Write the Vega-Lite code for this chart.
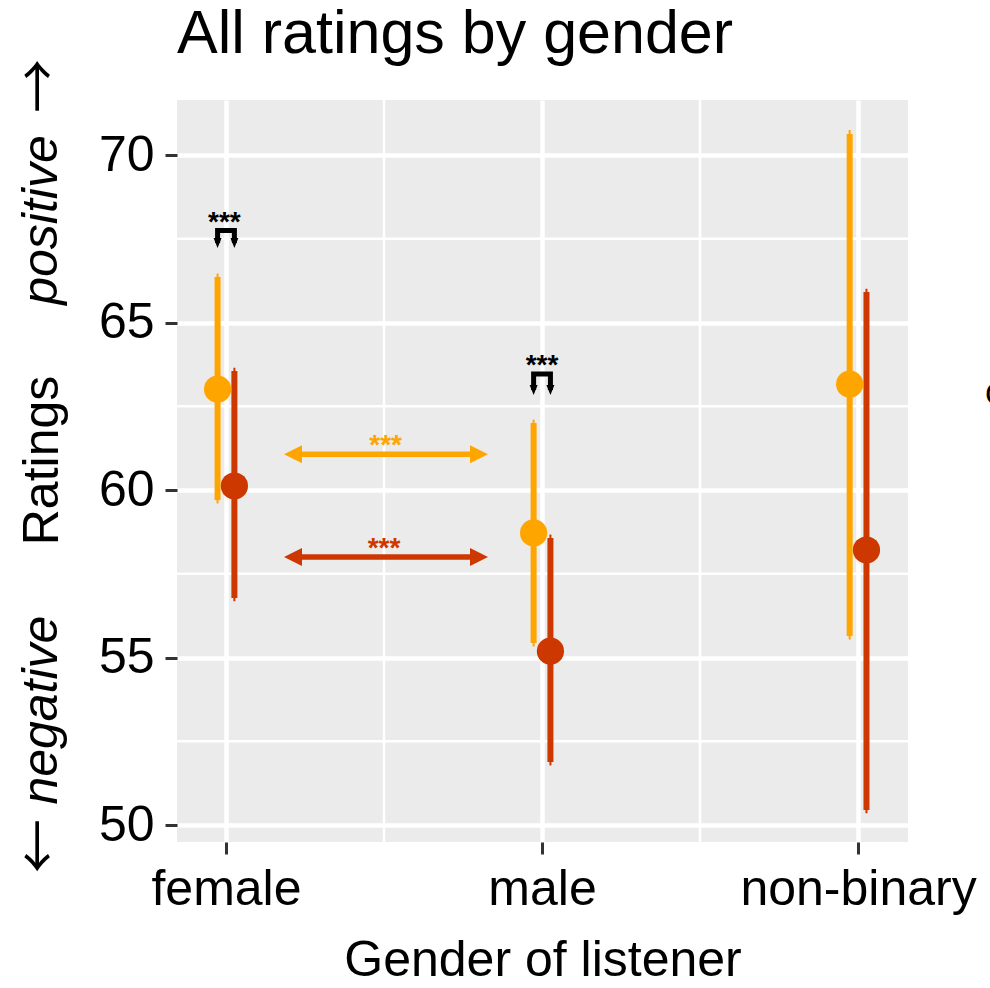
{
  "$schema": "https://vega.github.io/schema/vega-lite/v6.json",
  "width": 731,
  "height": 742,
  "autosize": {"type": "none"},
  "padding": {"left": 177, "top": 100, "right": 82, "bottom": 146},
  "background": "white",
  "title": {"text": "All ratings by gender", "anchor": "start", "frame": "group", "offset": -55, "baseline": "alphabetic", "fontSize": 61, "font": "Liberation Sans", "fontWeight": "normal", "color": "black"},
  "config": {
    "view": {"fill": "#EBEBEB", "stroke": null},
    "font": "Liberation Sans",
    "axis": {"labelFont": "Liberation Sans", "titleFont": "Liberation Sans"},
    "text": {"font": "Liberation Sans"}
  },
  "datasets": {
    "bars": [
      {"listener": "female", "speaker": "female", "x": 0.9734, "mean": 63.01, "lo": 59.70, "hi": 66.36, "lo_tip": 59.60, "hi_tip": 66.46},
      {"listener": "female", "speaker": "male", "x": 1.0266, "mean": 60.12, "lo": 56.78, "hi": 63.55, "lo_tip": 56.68, "hi_tip": 63.65},
      {"listener": "male", "speaker": "female", "x": 1.9734, "mean": 58.72, "lo": 55.43, "hi": 62.00, "lo_tip": 55.33, "hi_tip": 62.10},
      {"listener": "male", "speaker": "male", "x": 2.0266, "mean": 55.19, "lo": 51.88, "hi": 58.57, "lo_tip": 51.78, "hi_tip": 58.67},
      {"listener": "non-binary", "speaker": "female", "x": 2.9734, "mean": 63.16, "lo": 55.64, "hi": 70.63, "lo_tip": 55.54, "hi_tip": 70.75},
      {"listener": "non-binary", "speaker": "male", "x": 3.0266, "mean": 58.21, "lo": 50.45, "hi": 65.91, "lo_tip": 50.35, "hi_tip": 66.01}
    ],
    "vgrid": [{"x": 1.5}, {"x": 2.5}],
    "hgrid": [{"y": 52.5}, {"y": 57.5}, {"y": 62.5}, {"y": 67.5}],
    "arrows": [
      {"speaker": "female", "y": 61.066, "x1": 1.212, "x2": 1.8006, "xm": 1.505, "label": "***"},
      {"speaker": "male", "y": 58.0, "x1": 1.212, "x2": 1.8006, "xm": 1.5, "label": "***"}
    ],
    "brackets": [
      {"id": "female", "k": 1, "x": 0.9734, "y": 67.373},
      {"id": "female", "k": 2, "x": 0.9734, "y": 67.746},
      {"id": "female", "k": 3, "x": 1.0266, "y": 67.746},
      {"id": "female", "k": 4, "x": 1.0266, "y": 67.373},
      {"id": "male", "k": 1, "x": 1.9734, "y": 62.985},
      {"id": "male", "k": 2, "x": 1.9734, "y": 63.463},
      {"id": "male", "k": 3, "x": 2.0266, "y": 63.463},
      {"id": "male", "k": 4, "x": 2.0266, "y": 62.985}
    ],
    "bracketEnds": [
      {"x": 0.9734, "y": 67.373}, {"x": 1.0266, "y": 67.373},
      {"x": 1.9734, "y": 62.985}, {"x": 2.0266, "y": 62.985}
    ],
    "stars": [
      {"x": 0.995, "y": 67.746, "label": "***"},
      {"x": 2.0, "y": 63.463, "label": "***"}
    ],
    "sidewords": [
      {"x": 0.4177, "y": 68.06, "label": "positive"},
      {"x": 0.4177, "y": 53.43, "label": "negative"}
    ],
    "sidearrows": [
      {"x": 0.4177, "y": 72.06, "label": "→"},
      {"x": 0.4177, "y": 49.37, "label": "←"}
    ]
  },
  "layer": [
    {
      "data": {"name": "vgrid"},
      "mark": {"type": "rule", "color": "white", "strokeWidth": 2.5},
      "encoding": {
        "x": {"field": "x", "type": "quantitative", "scale": {"domain": [0.845, 3.158], "nice": false, "zero": false},
          "axis": {"values": [1, 2, 3], "labelExpr": "datum.value == 1 ? 'female' : datum.value == 2 ? 'male' : 'non-binary'", "title": "Gender of listener", "grid": true, "gridColor": "white", "gridWidth": 4.5, "domain": false, "ticks": true, "tickSize": 12, "tickWidth": 3, "tickColor": "#333333", "labelFontSize": 50, "labelColor": "black", "labelBaseline": "alphabetic", "labelPadding": 50, "labelFlush": false, "labelOverlap": false, "labelLimit": 500, "titleFontSize": 50, "titleFontWeight": "normal", "titleColor": "black", "titleBaseline": "alphabetic", "titleY": 133}}
      }
    },
    {
      "data": {"name": "hgrid"},
      "mark": {"type": "rule", "color": "white", "strokeWidth": 2.5},
      "encoding": {
        "y": {"field": "y", "type": "quantitative", "scale": {"domain": [49.493, 71.642], "nice": false, "zero": false},
          "axis": {"values": [50, 55, 60, 65, 70], "title": "Ratings", "grid": true, "gridColor": "white", "gridWidth": 4.5, "domain": false, "ticks": true, "tickSize": 12, "tickWidth": 3, "tickColor": "#333333", "labelFontSize": 50, "labelColor": "black", "labelBaseline": "middle", "labelPadding": 11, "labelFlush": false, "labelOverlap": false, "labelLimit": 500, "titleFontSize": 50, "titleFontWeight": "normal", "titleColor": "black", "titleAngle": 270, "titleX": -135, "titleY": 360, "titleAlign": "center", "titleBaseline": "middle"}}
      }
    },
    {
      "data": {"name": "bars"},
      "mark": {"type": "rule", "strokeWidth": 2},
      "encoding": {
        "x": {"field": "x", "type": "quantitative", "scale": {"domain": [0.845, 3.158], "nice": false, "zero": false}},
        "y": {"field": "lo_tip", "type": "quantitative", "scale": {"domain": [49.493, 71.642], "nice": false, "zero": false}},
        "y2": {"field": "hi_tip"},
        "color": {"field": "speaker", "type": "nominal", "scale": {"domain": ["female", "male"], "range": ["#FFA500", "#CD3700"]},
          "legend": {"orient": "none", "legendX": 808, "legendY": 280, "title": "Gender of speaker", "titleFontSize": 32, "titleColor": "black", "titleFontWeight": "normal", "labelFontSize": 32, "symbolOffset": 40, "symbolSize": 660, "padding": 0}}
      }
    },
    {
      "data": {"name": "bars"},
      "mark": {"type": "rule", "strokeWidth": 6},
      "encoding": {
        "x": {"field": "x", "type": "quantitative", "scale": {"domain": [0.845, 3.158], "nice": false, "zero": false}},
        "y": {"field": "lo", "type": "quantitative", "scale": {"domain": [49.493, 71.642], "nice": false, "zero": false}},
        "y2": {"field": "hi"},
        "color": {"field": "speaker", "type": "nominal", "scale": {"domain": ["female", "male"], "range": ["#FFA500", "#CD3700"]}}
      }
    },
    {
      "data": {"name": "bars"},
      "mark": {"type": "point", "filled": true, "size": 740, "opacity": 1, "strokeWidth": 0},
      "encoding": {
        "x": {"field": "x", "type": "quantitative", "scale": {"domain": [0.845, 3.158], "nice": false, "zero": false}},
        "y": {"field": "mean", "type": "quantitative", "scale": {"domain": [49.493, 71.642], "nice": false, "zero": false}},
        "color": {"field": "speaker", "type": "nominal", "scale": {"domain": ["female", "male"], "range": ["#FFA500", "#CD3700"]}}
      }
    },
    {
      "data": {"name": "arrows"},
      "mark": {"type": "rule", "strokeWidth": 5.5},
      "encoding": {
        "x": {"field": "x1", "type": "quantitative", "scale": {"domain": [0.845, 3.158], "nice": false, "zero": false}},
        "x2": {"field": "x2"},
        "y": {"field": "y", "type": "quantitative", "scale": {"domain": [49.493, 71.642], "nice": false, "zero": false}},
        "color": {"field": "speaker", "type": "nominal", "scale": {"domain": ["female", "male"], "range": ["#FFA500", "#CD3700"]}}
      }
    },
    {
      "data": {"name": "arrows"},
      "mark": {"type": "point", "filled": true, "opacity": 1, "size": 324, "strokeWidth": 0, "shape": "M-1,0L1,-1L1,1Z"},
      "encoding": {
        "x": {"field": "x1", "type": "quantitative", "scale": {"domain": [0.845, 3.158], "nice": false, "zero": false}},
        "y": {"field": "y", "type": "quantitative", "scale": {"domain": [49.493, 71.642], "nice": false, "zero": false}},
        "color": {"field": "speaker", "type": "nominal", "scale": {"domain": ["female", "male"], "range": ["#FFA500", "#CD3700"]}}
      }
    },
    {
      "data": {"name": "arrows"},
      "mark": {"type": "point", "filled": true, "opacity": 1, "size": 324, "strokeWidth": 0, "shape": "M1,0L-1,-1L-1,1Z"},
      "encoding": {
        "x": {"field": "x2", "type": "quantitative", "scale": {"domain": [0.845, 3.158], "nice": false, "zero": false}},
        "y": {"field": "y", "type": "quantitative", "scale": {"domain": [49.493, 71.642], "nice": false, "zero": false}},
        "color": {"field": "speaker", "type": "nominal", "scale": {"domain": ["female", "male"], "range": ["#FFA500", "#CD3700"]}}
      }
    },
    {
      "data": {"name": "arrows"},
      "mark": {"type": "text", "fontSize": 28, "fontWeight": "bold", "align": "center", "baseline": "alphabetic"},
      "encoding": {
        "x": {"field": "xm", "type": "quantitative", "scale": {"domain": [0.845, 3.158], "nice": false, "zero": false}},
        "y": {"field": "y", "type": "quantitative", "scale": {"domain": [49.493, 71.642], "nice": false, "zero": false}},
        "text": {"field": "label"},
        "color": {"field": "speaker", "type": "nominal", "scale": {"domain": ["female", "male"], "range": ["#FFA500", "#CD3700"]}}
      }
    },
    {
      "data": {"name": "brackets"},
      "mark": {"type": "line", "color": "black", "strokeWidth": 5, "strokeJoin": "miter", "strokeCap": "butt"},
      "encoding": {
        "x": {"field": "x", "type": "quantitative", "scale": {"domain": [0.845, 3.158], "nice": false, "zero": false}},
        "y": {"field": "y", "type": "quantitative", "scale": {"domain": [49.493, 71.642], "nice": false, "zero": false}},
        "detail": {"field": "id"},
        "order": {"field": "k"}
      }
    },
    {
      "data": {"name": "bracketEnds"},
      "mark": {"type": "point", "filled": true, "opacity": 1, "color": "black", "size": 100, "strokeWidth": 0, "shape": "M-0.8,-1L0.8,-1L0,1Z"},
      "encoding": {
        "x": {"field": "x", "type": "quantitative", "scale": {"domain": [0.845, 3.158], "nice": false, "zero": false}},
        "y": {"field": "y", "type": "quantitative", "scale": {"domain": [49.493, 71.642], "nice": false, "zero": false}}
      }
    },
    {
      "data": {"name": "stars"},
      "mark": {"type": "text", "fontSize": 28, "fontWeight": "bold", "align": "center", "baseline": "alphabetic", "color": "black"},
      "encoding": {
        "x": {"field": "x", "type": "quantitative", "scale": {"domain": [0.845, 3.158], "nice": false, "zero": false}},
        "y": {"field": "y", "type": "quantitative", "scale": {"domain": [49.493, 71.642], "nice": false, "zero": false}},
        "text": {"field": "label"}
      }
    },
    {
      "data": {"name": "sidewords"},
      "mark": {"type": "text", "fontSize": 50, "fontStyle": "italic", "angle": 270, "align": "center", "baseline": "middle", "color": "black"},
      "encoding": {
        "x": {"field": "x", "type": "quantitative", "scale": {"domain": [0.845, 3.158], "nice": false, "zero": false}},
        "y": {"field": "y", "type": "quantitative", "scale": {"domain": [49.493, 71.642], "nice": false, "zero": false}},
        "text": {"field": "label"}
      }
    },
    {
      "data": {"name": "sidearrows"},
      "mark": {"type": "text", "fontSize": 54, "font": "Noto Sans CJK JP", "angle": 270, "align": "center", "baseline": "middle", "color": "black"},
      "encoding": {
        "x": {"field": "x", "type": "quantitative", "scale": {"domain": [0.845, 3.158], "nice": false, "zero": false}},
        "y": {"field": "y", "type": "quantitative", "scale": {"domain": [49.493, 71.642], "nice": false, "zero": false}},
        "text": {"field": "label"}
      }
    }
  ]
}
